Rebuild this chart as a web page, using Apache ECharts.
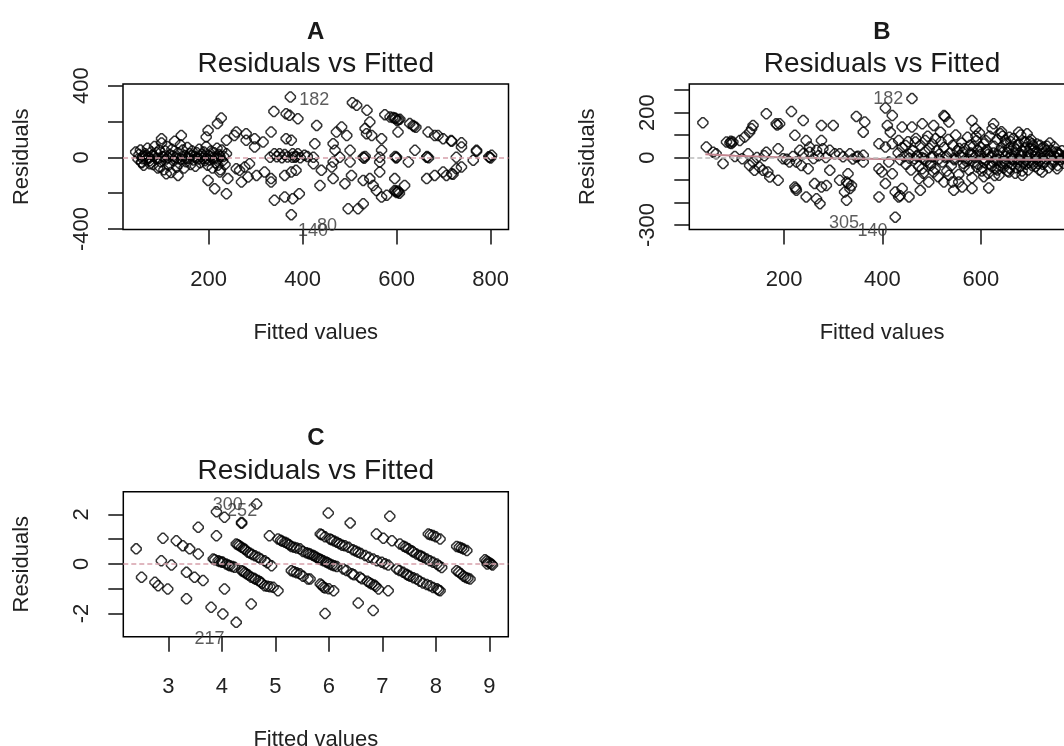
<!DOCTYPE html>
<html>
<head>
<meta charset="utf-8">
<title>Residuals vs Fitted</title>
<script src="https://cdn.jsdelivr.net/npm/echarts@6/dist/echarts.min.js"></script>
<style>
  html, body { margin: 0; padding: 0; background: #fff; }
  #chart { width: 1064px; height: 746px; }
</style>
</head>
<body>
<div id="chart"></div>
<script>
// ---- panel A : fitted / residual pairs
var pointsA = [
  [45,30],[50,-10],[52,15],[55,40],[58,-30],[60,5],[62,-45],[65,20],[68,-15],[70,50],[72,0],[75,-20],[78,30],[80,10],
  [82,-40],[85,60],[88,-5],[90,25],[92,-60],[95,40],[98,-25],[100,80],[102,5],[105,-70],[108,35],[110,-10],[112,60],
  [115,-45],[118,15],[120,-85],[122,45],[125,-20],[128,90],[130,0],[132,-55],[135,25],[138,-35],[140,70],[142,-10],
  [145,40],[148,-60],[150,10],[152,-25],[155,55],[158,-5],[160,20],[162,-40],[165,35],[168,-15],[170,5],[172,-50],
  [175,25],[178,-10],[180,45],[182,-30],[185,15],[188,-5],[190,30],[192,-20],[195,60],[198,-45],[200,10],[202,-15],
  [205,35],[208,-60],[210,0],[212,25],[215,-30],[218,50],[220,-10],[222,15],[225,-70],[228,40],[230,-20],[232,5],
  [235,-40],[238,20],[60,-8],[66,8],[74,-4],[84,6],[94,-6],[104,3],[114,-3],[124,7],[134,-8],[144,4],[154,-6],
  [164,8],[174,-3],[184,5],[194,-7],[204,4],[214,-4],[224,6],
  [374,336],[339,256],[365,243],[372,234],[390,215],[227,219],[219,188],[199,150],[195,113],[142,122],[100,104],
  [259,141],[255,122],[280,132],[238,95],[280,95],[298,104],[316,85],[333,141],[365,104],[376,95],[298,57],[340,20],
  [351,20],[362,15],[379,20],[390,20],[404,11],[376,-82],[362,-101],[386,-73],[319,-82],[333,-138],[340,-240],
  [362,-222],[379,-231],[393,-203],[376,-320],[287,-36],[277,-54],[259,-64],[266,-73],[270,-138],[284,-110],
  [302,-101],[333,-119],[199,-129],[213,-175],[238,-203],[241,-119],[224,-82],[220,-45],[135,-101],[110,-92],
  [96,-54],[75,-36],[57,-26],
  [331,0],[345,3],[356,-2],[368,2],[378,0],[384,0],[386,5],[395,-3],[410,5],
  [506,305],[515,290],[537,262],[575,238],[586,225],[596,219],[601,206],[607,212],[628,188],[635,178],[430,178],
  [472,141],[483,169],[494,122],[543,197],[533,160],[536,132],[547,122],[568,104],[603,141],[667,141],[681,122],
  [688,122],[699,104],[717,89],[738,81],[738,57],[770,39],[770,33],[802,11],[426,76],[465,76],[501,39],[469,39],
  [423,0],[479,0],[529,0],[564,0],[600,0],[664,0],[727,0],[798,0],[568,39],[639,39],[763,-17],[625,-26],[564,-26],
  [501,-26],[465,-26],[423,-36],[440,-73],[462,-54],[465,-119],[437,-157],[490,-147],[504,-101],[529,-129],
  [543,-119],[550,-157],[564,-82],[557,-185],[568,-222],[579,-212],[596,-185],[603,-194],[617,-157],[596,-119],
  [664,-119],[681,-101],[699,-82],[706,-101],[717,-92],[727,-64],[738,-54],[497,-287],[518,-287],[529,-259],
  [598,-190],[600,-197],[603,-188],[606,-200],[592,222],[598,216],[604,210],[637,172],[641,168],[533,5],[531,-5],
  [597,5],[599,-4],[665,4],[668,-3],[796,3],[800,-4],[716,93],[720,-95]
];
var labelsA = [
  { name: '182', value: [425, 322] },
  { name: '140', value: [422, -412] },
  { name: '80', value: [452, -385] }
];
var ticksAx = [200, 400, 600, 800];
var ticksAy = [-400, -200, 0, 200, 400];
var textAy = [-400, 0, 400];

// ---- panel B
var pointsB = [
  [35,155],[42,47],[56,24],[76,-27],[62,17],[83,69],[93,62],[96,69],[90,65],[92,72],[110,76],[120,91],[130,113],
  [137,143],[134,128],[164,195],[184,150],[186,145],[191,150],[215,205],[239,165],[276,143],[300,143],[347,183],
  [364,158],[361,113],[222,99],[245,76],[276,76],[252,47],[232,32],[239,17],[252,24],[266,32],[279,39],[293,32],
  [303,17],[313,17],[334,17],[361,10],[164,24],[188,39],[198,-5],[211,-20],[127,17],[137,-20],[130,-35],[140,-57],
  [150,-42],[157,-57],[167,-64],[171,-87],[188,-101],[225,-20],[235,-35],[249,-50],[293,-57],[313,-101],[330,-72],
  [327,-109],[330,-115],[337,-124],[334,-138],[327,-190],[323,-153],[361,-20],[262,-116],[276,-131],[286,-124],
  [222,-131],[224,-138],[225,-146],[245,-175],[266,-183],[273,-205],[347,2],
  [100,5],[115,-5],[145,0],[160,8],[205,-8],[218,5],[260,-4],[270,8],[285,0],[320,3],[340,-6],[350,6],
  [460,262],[406,220],[420,187],[410,143],[416,113],[393,61],[406,47],[420,61],[440,136],[460,136],[481,150],
  [504,143],[525,187],[527,182],[535,158],[518,113],[433,76],[447,54],[467,69],[487,76],[508,84],[582,165],
  [589,128],[626,150],[623,128],[640,106],[677,113],[694,106],[691,69],[650,76],[677,61],[704,61],[728,47],
  [749,47],[759,17],[769,-5],[755,-50],[725,-64],[393,-50],[399,-64],[413,-20],[420,-72],[406,-116],[426,-153],
  [440,-138],[393,-175],[433,-175],[436,-170],[454,-175],[477,-146],[474,-94],[494,-109],[504,-64],[525,-109],
  [545,-146],[562,-131],[582,-138],[616,-135],[637,-79],[657,-64],[684,-79],[426,-265],[481,-50],[498,-35],
  [535,-79],[542,-109],[555,-109],
  [432,20],[436,-10],[440,45],[444,5],[448,-30],[452,70],[455,15],[458,-55],[462,30],[465,-5],[468,85],[471,10],
  [474,-40],[477,55],[480,0],[483,-70],[486,25],[489,-15],[492,95],[495,40],[498,-25],[501,60],[504,5],[507,-50],
  [510,30],[513,-85],[516,15],[519,70],[522,-20],[525,45],[528,0],[531,-60],[534,80],[537,20],[540,-35],[543,55],
  [546,-10],[549,100],[552,30],[555,-75],[558,10],[561,65],[564,-25],[567,40],[570,-5],[573,90],[576,-55],[579,20],
  [582,-90],[585,50],[588,0],[591,75],[594,-30],[597,110],[600,15],[603,-45],[606,60],[609,-10],[612,35],[615,-70],
  [618,95],[621,5],[624,-20],[627,50],[630,-50],[633,80],[636,10],[639,-35],[642,115],[645,25],[648,-15],[651,65],
  [654,-60],[657,40],[660,0],[663,-30],[666,85],[669,20],[672,-45],[675,55],[678,-10],[681,100],[684,30],[687,-25],
  [690,45],[693,5],[696,-55],[699,70],[702,15],[705,-20],[708,35],[711,-40],[714,60],[717,0],[720,-15],[723,40],
  [726,-30],[729,20],[732,-5],[735,50],[738,-45],[741,10],[744,30],[747,-20],[750,5],[753,25],[756,-35],[759,10],
  [762,-10],[765,30],[768,-25],[771,0],[774,15],[777,-15],[780,20],[783,-5],[786,10],
  [560,5],[575,-8],[590,8],[605,-5],[620,3],[635,-8],[650,6],[665,-4],[680,8],[695,-6],[710,4],[725,-3],[740,6],
  [755,-4],[770,3],[545,-3],[530,6],[515,-6],[500,3],[485,-4],[470,6],[455,-3],
  [556,40],[566,-40],[578,55],[586,-20],[594,30],[602,-60],[610,75],[618,-30],[626,20],[634,-55],[642,45],
  [650,-25],[658,90],[664,-10],[672,35],[680,-40],[688,70],[696,20],[704,-35],[712,25],[720,55],[730,-20],
  [610,25],[622,-40],[638,30],[646,-45],[662,15],[676,-20],[692,-30],[700,40],[716,-25],[736,15],[748,-10],
  [563,22],[571,-18],[583,12],[592,-42],[599,48],[607,-22],[614,12],[629,-12],[641,-22],[653,22],[659,-48],
  [667,48],[674,-8],[683,12],[691,-12],[698,-22],[706,52],[713,-8],[722,18],[733,32],[745,-30],[757,22],
  [590,95],[606,-85],[628,-80],[644,95],[661,70],[670,-70],[684,-60],[702,80],[719,-55],[740,65]
];
var labelsB = [
  { name: '182', value: [412, 258] },
  { name: '305', value: [322, -293] },
  { name: '140', value: [380, -329] }
];
var smoothBx = [40, 100, 200, 300, 400, 500, 600, 700, 790];
var smoothBy = [15, 8, 0, -3, -6, -8, -8, -10, -10];
var ticksBx = [200, 400, 600, 800];
var ticksBy = [-300, -200, -100, 0, 100, 200, 300];
var textBy = [-300, 0, 200];

// ---- panel C
var pointsC = [
  [2.40,0.61],[2.50,-0.54],[2.75,-0.74],[2.81,-0.88],[2.99,-1.01],[2.87,0.13],[3.06,-0.04],[2.90,1.04],[3.15,0.94],
  [3.27,0.74],[3.40,0.61],[3.56,0.40],[3.34,-0.34],[3.49,-0.54],[3.65,-0.67],[3.34,-1.41],[3.56,1.48],[3.90,1.14],
  [3.90,2.11],[4.05,1.89],[4.37,1.68],[4.37,1.64],[4.65,2.42],[3.84,0.20],[3.93,0.13],[4.02,0.07],[4.15,-0.07],
  [4.24,-0.13],[4.05,-1.01],[3.80,-1.75],[4.02,-2.02],[4.27,-2.36],[4.55,-1.62],[4.27,0.81],[4.37,0.67],[4.49,0.47],
  [4.68,0.27],[4.80,0.13],[4.93,-0.07],[4.37,-0.27],[4.46,-0.40],[4.55,-0.54],[4.68,-0.67],[4.80,-0.88],[4.96,-0.94],
  [5.05,-1.08],[4.89,1.14],[5.05,1.01],[5.18,0.88],[5.30,0.71],[5.46,0.61],[5.30,-0.27],[5.46,-0.40],[5.61,-0.61],
  [4.30,0.78],[4.33,0.74],[4.41,0.62],[4.44,0.58],[4.53,0.43],[4.57,0.38],[4.62,0.33],[4.73,0.20],[4.85,0.05],
  [4.40,-0.30],[4.43,-0.35],[4.50,-0.45],[4.60,-0.58],[4.63,-0.62],[4.72,-0.72],[4.75,-0.78],[4.85,-0.90],[4.90,-0.92],
  [3.87,0.17],[3.96,0.10],[4.00,0.08],[4.08,0.00],[4.12,-0.04],[4.20,-0.10],
  [5.10,0.96],[5.13,0.92],[5.22,0.84],[5.26,0.78],[5.35,0.68],[5.40,0.64],[5.52,0.50],[5.58,0.45],[5.62,0.42],
  [5.35,-0.32],[5.40,-0.36],[5.52,-0.50],
  [5.99,2.06],[6.40,1.66],[7.14,1.93],[5.84,1.21],[6.02,1.01],[6.15,0.88],[6.37,0.67],[6.55,0.47],[6.68,0.34],
  [6.83,0.20],[6.99,0.07],[7.11,-0.04],[5.65,0.40],[5.77,0.27],[5.90,0.13],[6.02,0.00],[6.15,-0.10],[5.65,-0.61],
  [5.84,-0.81],[5.90,-0.94],[6.09,-1.08],[6.27,-0.20],[6.43,-0.40],[6.58,-0.54],[6.80,-0.81],[6.93,-1.01],
  [7.11,-1.08],[5.93,-2.00],[6.55,-1.58],[6.83,-1.88],[6.89,1.21],[7.02,1.04],[7.18,0.94],[7.33,0.81],[7.49,0.61],
  [7.64,0.40],[7.77,0.27],[7.89,0.13],[8.02,0.00],[8.11,-0.14],[7.27,-0.20],[7.39,-0.34],[7.52,-0.50],[7.64,-0.61],
  [7.89,-0.88],[8.08,-1.08],[7.86,1.21],[8.08,1.01],[8.39,0.71],[8.58,0.54],[8.39,-0.27],[8.52,-0.50],[8.64,-0.61],
  [8.92,0.17],[9.04,0.00],
  [5.70,0.35],[5.73,0.32],[5.80,0.22],[5.83,0.20],[5.86,0.17],[5.95,0.08],[5.98,0.05],[6.06,-0.04],[6.10,-0.07],
  [5.87,-0.86],[5.93,-0.97],[6.00,-1.00],[5.87,1.18],[5.93,1.10],[6.05,0.98],[6.10,0.93],[6.20,0.82],[6.25,0.76],
  [6.30,0.74],[6.45,0.57],[6.50,0.52],[6.60,0.42],[6.75,0.27],[6.90,0.13],[7.05,0.01],
  [6.33,-0.26],[6.47,-0.44],[6.62,-0.60],[6.72,-0.70],[6.76,-0.76],[6.85,-0.85],[6.88,-0.90],
  [7.40,0.72],[7.44,0.68],[7.55,0.53],[7.58,0.48],[7.70,0.34],[7.73,0.31],[7.83,0.20],[7.95,0.07],[8.06,-0.07],
  [7.90,1.18],[7.95,1.15],[8.00,1.10],[8.44,0.68],[8.48,0.64],[8.52,0.60],
  [8.43,-0.33],[8.47,-0.40],[8.56,-0.55],[8.60,-0.58],
  [7.32,-0.26],[7.45,-0.42],[7.48,-0.46],[7.58,-0.56],[7.70,-0.70],[7.76,-0.77],[7.83,-0.83],[7.95,-0.95],
  [8.02,-1.00],[8.05,-1.05],
  [8.95,0.12],[8.98,0.08],[9.01,0.04],[8.96,0.00],[9.06,-0.04]
];
var labelsC = [
  { name: '300', value: [4.11, 2.38] },
  { name: '252', value: [4.38, 2.14] },
  { name: '217', value: [3.77, -3.05] }
];
var ticksCx = [3, 4, 5, 6, 7, 8, 9];
var ticksCy = [-2, -1, 0, 1, 2];
var textCy = [-2, 0, 2];

var FONT = '"Liberation Sans", Arial, sans-serif';
var ring = 'path://M4,0 L6,0 L10,4 L10,6 L6,10 L4,10 L0,6 L0,4 Z';

function xAxisOf(g, min, max, ticks) {
  return {
    type: 'value', gridIndex: g, min: min, max: max, position: 'bottom',
    name: 'Fitted values', nameLocation: 'middle', nameGap: 92,
    nameTextStyle: { fontSize: 22, color: '#222', fontFamily: FONT },
    axisLine: { show: false, onZero: false },
    axisTick: { show: true, length: 15, lineStyle: { color: '#111', width: 1.5 }, customValues: ticks },
    axisLabel: { customValues: ticks, margin: 39, fontSize: 22, color: '#222', fontFamily: FONT },
    splitLine: { show: false }
  };
}
function yAxisOf(g, min, max, ticks, texts) {
  return {
    type: 'value', gridIndex: g, min: min, max: max, position: 'left',
    name: 'Residuals', nameLocation: 'middle', nameGap: 90, nameRotate: 90,
    nameTextStyle: { fontSize: 22, color: '#222', fontFamily: FONT },
    axisLine: { show: false, onZero: false },
    axisTick: { show: true, length: 15, lineStyle: { color: '#111', width: 1.5 }, customValues: ticks },
    axisLabel: { customValues: texts, rotate: 90, margin: 30, fontSize: 22, color: '#222', fontFamily: FONT },
    splitLine: { show: false }
  };
}
function pointsOf(g, data, lineColor) {
  return {
    type: 'scatter', xAxisIndex: g, yAxisIndex: g, data: data,
    symbol: ring, symbolSize: 10,
    itemStyle: { color: 'rgba(0,0,0,0)', borderColor: '#000', borderWidth: 1.5 },
    markLine: {
      silent: true, symbol: 'none', label: { show: false },
      lineStyle: { color: lineColor, type: [5, 3], width: 1.5 },
      data: [{ yAxis: 0 }]
    }
  };
}
function labelsOf(g, data) {
  return {
    type: 'scatter', xAxisIndex: g, yAxisIndex: g, data: data, clip: false,
    symbolSize: 0, silent: true,
    label: { show: true, position: 'inside', formatter: '{b}', fontSize: 18, color: '#333', fontFamily: FONT }
  };
}
function text(x, y, s, font) {
  return { type: 'text', x: x, y: y,
    style: { text: s, font: font, fill: '#1a1a1a', textAlign: 'center', textVerticalAlign: 'middle' } };
}
function gridAt(left, top, width, height) {
  return { left: left, top: top, width: width, height: height, outerBoundsMode: 'none',
    containLabel: false, show: true, borderColor: '#000', borderWidth: 1.5 };
}

var chart = echarts.init(document.getElementById('chart'));
chart.setOption({
  animation: false,
  backgroundColor: '#fff',
  textStyle: { fontFamily: FONT },
  grid: [
    gridAt(123, 84, 385.5, 145.5),
    gridAt(689.3, 84, 385.5, 145.5),
    gridAt(123.3, 491.7, 385, 145)
  ],
  xAxis: [
    xAxisOf(0, 18, 838, ticksAx),
    xAxisOf(1, 7.4, 791, ticksBx),
    xAxisOf(2, 2.159, 9.355, ticksCx)
  ],
  yAxis: [
    yAxisOf(0, -403, 409, ticksAy, textAy),
    yAxisOf(1, -320, 327, ticksBy, textBy),
    yAxisOf(2, -2.94, 2.92, ticksCy, textCy)
  ],
  series: [
    pointsOf(0, pointsA, '#d6a0aa'),
    labelsOf(0, labelsA),
    pointsOf(1, pointsB, '#bbbbbb'),
    {
      type: 'line', xAxisIndex: 1, yAxisIndex: 1, showSymbol: false, silent: true,
      data: smoothBx.map(function (x, i) { return [x, smoothBy[i]]; }),
      lineStyle: { color: '#c2858f', width: 2 }
    },
    labelsOf(1, labelsB),
    pointsOf(2, pointsC, '#d6a0aa'),
    labelsOf(2, labelsC)
  ],
  graphic: [
    text(315.7, 32, 'A', 'bold 24px ' + FONT),
    text(315.7, 64, 'Residuals vs Fitted', '28px ' + FONT),
    text(882, 32, 'B', 'bold 24px ' + FONT),
    text(882, 64, 'Residuals vs Fitted', '28px ' + FONT),
    text(315.8, 438, 'C', 'bold 24px ' + FONT),
    text(315.8, 471, 'Residuals vs Fitted', '28px ' + FONT)
  ]
});
</script>
</body>
</html>
